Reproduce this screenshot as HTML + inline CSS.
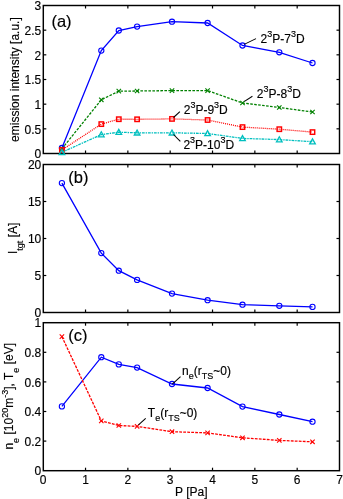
<!DOCTYPE html><html><head><meta charset="utf-8"><style>html,body{margin:0;padding:0;background:#fff;}svg{display:block;will-change:transform;}text{font-family:"Liberation Sans",sans-serif;font-size:12px;fill:#000;stroke:#000;stroke-width:0.15px;}</style></head><body>
<svg width="343" height="499" viewBox="0 0 343 499">
<rect width="343" height="499" fill="#fff"/>
<rect x="43.3" y="5.5" width="296.20" height="148.00" fill="none" stroke="#000" stroke-width="1.45"/>
<line x1="85.53" y1="153.5" x2="85.53" y2="150.5" stroke="#000" stroke-width="1.2"/>
<line x1="85.53" y1="5.5" x2="85.53" y2="8.5" stroke="#000" stroke-width="1.2"/>
<line x1="127.86" y1="153.5" x2="127.86" y2="150.5" stroke="#000" stroke-width="1.2"/>
<line x1="127.86" y1="5.5" x2="127.86" y2="8.5" stroke="#000" stroke-width="1.2"/>
<line x1="170.19" y1="153.5" x2="170.19" y2="150.5" stroke="#000" stroke-width="1.2"/>
<line x1="170.19" y1="5.5" x2="170.19" y2="8.5" stroke="#000" stroke-width="1.2"/>
<line x1="212.52" y1="153.5" x2="212.52" y2="150.5" stroke="#000" stroke-width="1.2"/>
<line x1="212.52" y1="5.5" x2="212.52" y2="8.5" stroke="#000" stroke-width="1.2"/>
<line x1="254.85" y1="153.5" x2="254.85" y2="150.5" stroke="#000" stroke-width="1.2"/>
<line x1="254.85" y1="5.5" x2="254.85" y2="8.5" stroke="#000" stroke-width="1.2"/>
<line x1="297.18" y1="153.5" x2="297.18" y2="150.5" stroke="#000" stroke-width="1.2"/>
<line x1="297.18" y1="5.5" x2="297.18" y2="8.5" stroke="#000" stroke-width="1.2"/>
<text x="41.30" y="158.20" text-anchor="end">0</text>
<line x1="43.3" y1="128.83" x2="46.3" y2="128.83" stroke="#000" stroke-width="1.2"/>
<line x1="339.5" y1="128.83" x2="336.5" y2="128.83" stroke="#000" stroke-width="1.2"/>
<text x="41.30" y="133.53" text-anchor="end">0.5</text>
<line x1="43.3" y1="104.17" x2="46.3" y2="104.17" stroke="#000" stroke-width="1.2"/>
<line x1="339.5" y1="104.17" x2="336.5" y2="104.17" stroke="#000" stroke-width="1.2"/>
<text x="41.30" y="108.87" text-anchor="end">1</text>
<line x1="43.3" y1="79.50" x2="46.3" y2="79.50" stroke="#000" stroke-width="1.2"/>
<line x1="339.5" y1="79.50" x2="336.5" y2="79.50" stroke="#000" stroke-width="1.2"/>
<text x="41.30" y="84.20" text-anchor="end">1.5</text>
<line x1="43.3" y1="54.83" x2="46.3" y2="54.83" stroke="#000" stroke-width="1.2"/>
<line x1="339.5" y1="54.83" x2="336.5" y2="54.83" stroke="#000" stroke-width="1.2"/>
<text x="41.30" y="59.53" text-anchor="end">2</text>
<line x1="43.3" y1="30.17" x2="46.3" y2="30.17" stroke="#000" stroke-width="1.2"/>
<line x1="339.5" y1="30.17" x2="336.5" y2="30.17" stroke="#000" stroke-width="1.2"/>
<text x="41.30" y="34.87" text-anchor="end">2.5</text>
<text x="41.30" y="10.20" text-anchor="end">3</text>
<polyline points="61.9,148.0 101.3,50.6 118.8,30.5 137.1,26.6 172.0,21.7 207.6,23.0 242.5,45.5 279.3,52.3 312.5,63.0" fill="none" stroke="#0000ff" stroke-width="1.3"/>
<circle cx="61.9" cy="148.0" r="2.6" fill="none" stroke="#0000ff" stroke-width="1.1"/>
<circle cx="101.3" cy="50.6" r="2.6" fill="none" stroke="#0000ff" stroke-width="1.1"/>
<circle cx="118.8" cy="30.5" r="2.6" fill="none" stroke="#0000ff" stroke-width="1.1"/>
<circle cx="137.1" cy="26.6" r="2.6" fill="none" stroke="#0000ff" stroke-width="1.1"/>
<circle cx="172.0" cy="21.7" r="2.6" fill="none" stroke="#0000ff" stroke-width="1.1"/>
<circle cx="207.6" cy="23.0" r="2.6" fill="none" stroke="#0000ff" stroke-width="1.1"/>
<circle cx="242.5" cy="45.5" r="2.6" fill="none" stroke="#0000ff" stroke-width="1.1"/>
<circle cx="279.3" cy="52.3" r="2.6" fill="none" stroke="#0000ff" stroke-width="1.1"/>
<circle cx="312.5" cy="63.0" r="2.6" fill="none" stroke="#0000ff" stroke-width="1.1"/>
<polyline points="61.9,148.8 101.3,99.8 118.8,91.1 137.1,91.0 172.0,90.6 207.6,90.6 242.5,103.0 279.3,107.5 312.5,112.0" fill="none" stroke="#008000" stroke-width="1.3" stroke-dasharray="2.6,1.4"/>
<path d="M59.7,146.6L64.1,151.0M59.7,151.0L64.1,146.6" stroke="#008000" stroke-width="1.1" fill="none"/>
<path d="M99.1,97.6L103.5,102.0M99.1,102.0L103.5,97.6" stroke="#008000" stroke-width="1.1" fill="none"/>
<path d="M116.6,88.9L121.0,93.3M116.6,93.3L121.0,88.9" stroke="#008000" stroke-width="1.1" fill="none"/>
<path d="M134.9,88.8L139.3,93.2M134.9,93.2L139.3,88.8" stroke="#008000" stroke-width="1.1" fill="none"/>
<path d="M169.8,88.4L174.2,92.8M169.8,92.8L174.2,88.4" stroke="#008000" stroke-width="1.1" fill="none"/>
<path d="M205.4,88.4L209.8,92.8M205.4,92.8L209.8,88.4" stroke="#008000" stroke-width="1.1" fill="none"/>
<path d="M240.3,100.8L244.7,105.2M240.3,105.2L244.7,100.8" stroke="#008000" stroke-width="1.1" fill="none"/>
<path d="M277.1,105.3L281.5,109.7M277.1,109.7L281.5,105.3" stroke="#008000" stroke-width="1.1" fill="none"/>
<path d="M310.3,109.8L314.7,114.2M310.3,114.2L314.7,109.8" stroke="#008000" stroke-width="1.1" fill="none"/>
<polyline points="61.9,150.0 101.3,124.1 118.8,119.2 137.1,119.3 172.0,118.9 207.6,120.0 242.5,127.1 279.3,129.2 312.5,132.1" fill="none" stroke="#ff0000" stroke-width="1.3" stroke-dasharray="1,1"/>
<rect x="59.7" y="147.8" width="4.4" height="4.4" fill="none" stroke="#ff0000" stroke-width="1.45"/>
<rect x="99.1" y="121.9" width="4.4" height="4.4" fill="none" stroke="#ff0000" stroke-width="1.45"/>
<rect x="116.6" y="117.0" width="4.4" height="4.4" fill="none" stroke="#ff0000" stroke-width="1.45"/>
<rect x="134.9" y="117.1" width="4.4" height="4.4" fill="none" stroke="#ff0000" stroke-width="1.45"/>
<rect x="169.8" y="116.7" width="4.4" height="4.4" fill="none" stroke="#ff0000" stroke-width="1.45"/>
<rect x="205.4" y="117.8" width="4.4" height="4.4" fill="none" stroke="#ff0000" stroke-width="1.45"/>
<rect x="240.3" y="124.9" width="4.4" height="4.4" fill="none" stroke="#ff0000" stroke-width="1.45"/>
<rect x="277.1" y="127.0" width="4.4" height="4.4" fill="none" stroke="#ff0000" stroke-width="1.45"/>
<rect x="310.3" y="129.9" width="4.4" height="4.4" fill="none" stroke="#ff0000" stroke-width="1.45"/>
<polyline points="61.9,152.3 101.3,134.6 118.8,132.2 137.1,132.8 172.0,132.8 207.6,133.5 242.5,138.4 279.3,139.6 312.5,141.7" fill="none" stroke="#00bfbf" stroke-width="1.3" stroke-dasharray="2.8,0.9,1.4,0.9"/>
<path d="M61.9,149.5L64.7,154.5L59.1,154.5Z" stroke="#00bfbf" stroke-width="1.3" fill="none"/>
<path d="M101.3,131.8L104.1,136.8L98.5,136.8Z" stroke="#00bfbf" stroke-width="1.3" fill="none"/>
<path d="M118.8,129.4L121.6,134.4L116.0,134.4Z" stroke="#00bfbf" stroke-width="1.3" fill="none"/>
<path d="M137.1,130.0L139.9,135.0L134.3,135.0Z" stroke="#00bfbf" stroke-width="1.3" fill="none"/>
<path d="M172.0,130.0L174.8,135.0L169.2,135.0Z" stroke="#00bfbf" stroke-width="1.3" fill="none"/>
<path d="M207.6,130.7L210.4,135.7L204.8,135.7Z" stroke="#00bfbf" stroke-width="1.3" fill="none"/>
<path d="M242.5,135.6L245.3,140.6L239.7,140.6Z" stroke="#00bfbf" stroke-width="1.3" fill="none"/>
<path d="M279.3,136.8L282.1,141.8L276.5,141.8Z" stroke="#00bfbf" stroke-width="1.3" fill="none"/>
<path d="M312.5,138.9L315.3,143.9L309.7,143.9Z" stroke="#00bfbf" stroke-width="1.3" fill="none"/>
<rect x="43.3" y="164.5" width="296.20" height="148.00" fill="none" stroke="#000" stroke-width="1.45"/>
<line x1="85.53" y1="312.5" x2="85.53" y2="309.5" stroke="#000" stroke-width="1.2"/>
<line x1="85.53" y1="164.5" x2="85.53" y2="167.5" stroke="#000" stroke-width="1.2"/>
<line x1="127.86" y1="312.5" x2="127.86" y2="309.5" stroke="#000" stroke-width="1.2"/>
<line x1="127.86" y1="164.5" x2="127.86" y2="167.5" stroke="#000" stroke-width="1.2"/>
<line x1="170.19" y1="312.5" x2="170.19" y2="309.5" stroke="#000" stroke-width="1.2"/>
<line x1="170.19" y1="164.5" x2="170.19" y2="167.5" stroke="#000" stroke-width="1.2"/>
<line x1="212.52" y1="312.5" x2="212.52" y2="309.5" stroke="#000" stroke-width="1.2"/>
<line x1="212.52" y1="164.5" x2="212.52" y2="167.5" stroke="#000" stroke-width="1.2"/>
<line x1="254.85" y1="312.5" x2="254.85" y2="309.5" stroke="#000" stroke-width="1.2"/>
<line x1="254.85" y1="164.5" x2="254.85" y2="167.5" stroke="#000" stroke-width="1.2"/>
<line x1="297.18" y1="312.5" x2="297.18" y2="309.5" stroke="#000" stroke-width="1.2"/>
<line x1="297.18" y1="164.5" x2="297.18" y2="167.5" stroke="#000" stroke-width="1.2"/>
<text x="41.30" y="317.20" text-anchor="end">0</text>
<line x1="43.3" y1="275.50" x2="46.3" y2="275.50" stroke="#000" stroke-width="1.2"/>
<line x1="339.5" y1="275.50" x2="336.5" y2="275.50" stroke="#000" stroke-width="1.2"/>
<text x="41.30" y="280.20" text-anchor="end">5</text>
<line x1="43.3" y1="238.50" x2="46.3" y2="238.50" stroke="#000" stroke-width="1.2"/>
<line x1="339.5" y1="238.50" x2="336.5" y2="238.50" stroke="#000" stroke-width="1.2"/>
<text x="41.30" y="243.20" text-anchor="end">10</text>
<line x1="43.3" y1="201.50" x2="46.3" y2="201.50" stroke="#000" stroke-width="1.2"/>
<line x1="339.5" y1="201.50" x2="336.5" y2="201.50" stroke="#000" stroke-width="1.2"/>
<text x="41.30" y="206.20" text-anchor="end">15</text>
<text x="41.30" y="169.20" text-anchor="end">20</text>
<polyline points="61.9,183.1 101.3,253.1 118.8,270.7 137.1,279.9 172.0,293.6 207.6,300.2 242.5,304.7 279.3,305.8 312.5,306.9" fill="none" stroke="#0000ff" stroke-width="1.3"/>
<circle cx="61.9" cy="183.1" r="2.6" fill="none" stroke="#0000ff" stroke-width="1.1"/>
<circle cx="101.3" cy="253.1" r="2.6" fill="none" stroke="#0000ff" stroke-width="1.1"/>
<circle cx="118.8" cy="270.7" r="2.6" fill="none" stroke="#0000ff" stroke-width="1.1"/>
<circle cx="137.1" cy="279.9" r="2.6" fill="none" stroke="#0000ff" stroke-width="1.1"/>
<circle cx="172.0" cy="293.6" r="2.6" fill="none" stroke="#0000ff" stroke-width="1.1"/>
<circle cx="207.6" cy="300.2" r="2.6" fill="none" stroke="#0000ff" stroke-width="1.1"/>
<circle cx="242.5" cy="304.7" r="2.6" fill="none" stroke="#0000ff" stroke-width="1.1"/>
<circle cx="279.3" cy="305.8" r="2.6" fill="none" stroke="#0000ff" stroke-width="1.1"/>
<circle cx="312.5" cy="306.9" r="2.6" fill="none" stroke="#0000ff" stroke-width="1.1"/>
<rect x="43.3" y="322.7" width="296.20" height="148.00" fill="none" stroke="#000" stroke-width="1.45"/>
<line x1="85.53" y1="470.7" x2="85.53" y2="467.7" stroke="#000" stroke-width="1.2"/>
<line x1="85.53" y1="322.7" x2="85.53" y2="325.7" stroke="#000" stroke-width="1.2"/>
<line x1="127.86" y1="470.7" x2="127.86" y2="467.7" stroke="#000" stroke-width="1.2"/>
<line x1="127.86" y1="322.7" x2="127.86" y2="325.7" stroke="#000" stroke-width="1.2"/>
<line x1="170.19" y1="470.7" x2="170.19" y2="467.7" stroke="#000" stroke-width="1.2"/>
<line x1="170.19" y1="322.7" x2="170.19" y2="325.7" stroke="#000" stroke-width="1.2"/>
<line x1="212.52" y1="470.7" x2="212.52" y2="467.7" stroke="#000" stroke-width="1.2"/>
<line x1="212.52" y1="322.7" x2="212.52" y2="325.7" stroke="#000" stroke-width="1.2"/>
<line x1="254.85" y1="470.7" x2="254.85" y2="467.7" stroke="#000" stroke-width="1.2"/>
<line x1="254.85" y1="322.7" x2="254.85" y2="325.7" stroke="#000" stroke-width="1.2"/>
<line x1="297.18" y1="470.7" x2="297.18" y2="467.7" stroke="#000" stroke-width="1.2"/>
<line x1="297.18" y1="322.7" x2="297.18" y2="325.7" stroke="#000" stroke-width="1.2"/>
<text x="41.30" y="475.40" text-anchor="end">0</text>
<line x1="43.3" y1="441.10" x2="46.3" y2="441.10" stroke="#000" stroke-width="1.2"/>
<line x1="339.5" y1="441.10" x2="336.5" y2="441.10" stroke="#000" stroke-width="1.2"/>
<text x="41.30" y="445.80" text-anchor="end">0.2</text>
<line x1="43.3" y1="411.50" x2="46.3" y2="411.50" stroke="#000" stroke-width="1.2"/>
<line x1="339.5" y1="411.50" x2="336.5" y2="411.50" stroke="#000" stroke-width="1.2"/>
<text x="41.30" y="416.20" text-anchor="end">0.4</text>
<line x1="43.3" y1="381.90" x2="46.3" y2="381.90" stroke="#000" stroke-width="1.2"/>
<line x1="339.5" y1="381.90" x2="336.5" y2="381.90" stroke="#000" stroke-width="1.2"/>
<text x="41.30" y="386.60" text-anchor="end">0.6</text>
<line x1="43.3" y1="352.30" x2="46.3" y2="352.30" stroke="#000" stroke-width="1.2"/>
<line x1="339.5" y1="352.30" x2="336.5" y2="352.30" stroke="#000" stroke-width="1.2"/>
<text x="41.30" y="357.00" text-anchor="end">0.8</text>
<text x="41.30" y="327.40" text-anchor="end">1</text>
<text x="43.20" y="484.20" text-anchor="middle">0</text>
<text x="85.53" y="484.20" text-anchor="middle">1</text>
<text x="127.86" y="484.20" text-anchor="middle">2</text>
<text x="170.19" y="484.20" text-anchor="middle">3</text>
<text x="212.52" y="484.20" text-anchor="middle">4</text>
<text x="254.85" y="484.20" text-anchor="middle">5</text>
<text x="297.18" y="484.20" text-anchor="middle">6</text>
<text x="339.51" y="484.20" text-anchor="middle">7</text>
<polyline points="61.9,406.4 101.3,357.2 118.8,364.4 137.1,367.6 172.0,384.0 207.6,388.0 242.5,406.6 279.3,414.5 312.5,421.7" fill="none" stroke="#0000ff" stroke-width="1.3"/>
<circle cx="61.9" cy="406.4" r="2.6" fill="none" stroke="#0000ff" stroke-width="1.1"/>
<circle cx="101.3" cy="357.2" r="2.6" fill="none" stroke="#0000ff" stroke-width="1.1"/>
<circle cx="118.8" cy="364.4" r="2.6" fill="none" stroke="#0000ff" stroke-width="1.1"/>
<circle cx="137.1" cy="367.6" r="2.6" fill="none" stroke="#0000ff" stroke-width="1.1"/>
<circle cx="172.0" cy="384.0" r="2.6" fill="none" stroke="#0000ff" stroke-width="1.1"/>
<circle cx="207.6" cy="388.0" r="2.6" fill="none" stroke="#0000ff" stroke-width="1.1"/>
<circle cx="242.5" cy="406.6" r="2.6" fill="none" stroke="#0000ff" stroke-width="1.1"/>
<circle cx="279.3" cy="414.5" r="2.6" fill="none" stroke="#0000ff" stroke-width="1.1"/>
<circle cx="312.5" cy="421.7" r="2.6" fill="none" stroke="#0000ff" stroke-width="1.1"/>
<polyline points="61.9,336.6 101.3,420.9 118.8,425.5 137.1,426.4 172.0,431.7 207.6,432.9 242.5,437.8 279.3,440.4 312.5,441.8" fill="none" stroke="#ff0000" stroke-width="1.3" stroke-dasharray="2.8,1.2"/>
<path d="M59.7,334.4L64.1,338.8M59.7,338.8L64.1,334.4" stroke="#ff0000" stroke-width="1.1" fill="none"/>
<path d="M99.1,418.7L103.5,423.1M99.1,423.1L103.5,418.7" stroke="#ff0000" stroke-width="1.1" fill="none"/>
<path d="M116.6,423.3L121.0,427.7M116.6,427.7L121.0,423.3" stroke="#ff0000" stroke-width="1.1" fill="none"/>
<path d="M134.9,424.2L139.3,428.6M134.9,428.6L139.3,424.2" stroke="#ff0000" stroke-width="1.1" fill="none"/>
<path d="M169.8,429.5L174.2,433.9M169.8,433.9L174.2,429.5" stroke="#ff0000" stroke-width="1.1" fill="none"/>
<path d="M205.4,430.7L209.8,435.1M205.4,435.1L209.8,430.7" stroke="#ff0000" stroke-width="1.1" fill="none"/>
<path d="M240.3,435.6L244.7,440.0M240.3,440.0L244.7,435.6" stroke="#ff0000" stroke-width="1.1" fill="none"/>
<path d="M277.1,438.2L281.5,442.6M277.1,442.6L281.5,438.2" stroke="#ff0000" stroke-width="1.1" fill="none"/>
<path d="M310.3,439.6L314.7,444.0M310.3,444.0L314.7,439.6" stroke="#ff0000" stroke-width="1.1" fill="none"/>
<text x="51.4" y="27.2" style="font-size:16.5px">(a)</text>
<text x="68.3" y="182.8" style="font-size:16.5px">(b)</text>
<text x="68.3" y="341" style="font-size:16.5px">(c)</text>
<text x="260.6" y="42.5">2<tspan dy="-6.0" style="font-size:9px">3</tspan><tspan dy="6.0">P-7</tspan><tspan dy="-6.0" style="font-size:9px">3</tspan><tspan dy="6.0">D</tspan></text>
<line x1="244.2" y1="44.4" x2="256.0" y2="38.6" stroke="#000" stroke-width="1.05"/>
<text x="256.8" y="97.5">2<tspan dy="-6.0" style="font-size:9px">3</tspan><tspan dy="6.0">P-8</tspan><tspan dy="-6.0" style="font-size:9px">3</tspan><tspan dy="6.0">D</tspan></text>
<line x1="244.5" y1="101.4" x2="252.4" y2="96.2" stroke="#000" stroke-width="1.05"/>
<text x="183.7" y="113.6">2<tspan dy="-6.0" style="font-size:9px">3</tspan><tspan dy="6.0">P-9</tspan><tspan dy="-6.0" style="font-size:9px">3</tspan><tspan dy="6.0">D</tspan></text>
<line x1="173.5" y1="117.5" x2="179.9" y2="111.7" stroke="#000" stroke-width="1.05"/>
<text x="183.4" y="149.2">2<tspan dy="-6.0" style="font-size:9px">3</tspan><tspan dy="6.0">P-10</tspan><tspan dy="-6.0" style="font-size:9px">3</tspan><tspan dy="6.0">D</tspan></text>
<line x1="173.5" y1="134.5" x2="180.3" y2="141.3" stroke="#000" stroke-width="1.05"/>
<text x="182.1" y="375.0">n<tspan dy="3.5" style="font-size:9px">e</tspan><tspan dy="-3.5">(r</tspan><tspan dy="3.5" style="font-size:9px">TS</tspan><tspan dy="-3.5">~0)</tspan></text>
<line x1="172.3" y1="384.1" x2="180.5" y2="376.7" stroke="#000" stroke-width="1.05"/>
<text x="147.8" y="417.0">T<tspan dy="3.5" style="font-size:9px">e</tspan><tspan dy="-3.5">(r</tspan><tspan dy="3.5" style="font-size:9px">TS</tspan><tspan dy="-3.5">~0)</tspan></text>
<line x1="138.5" y1="424.8" x2="145.7" y2="418.4" stroke="#000" stroke-width="1.05"/>
<text transform="translate(19.2,79.6) rotate(-90)" text-anchor="middle">emission intensity [a.u.]</text>
<text transform="translate(17,238.3) rotate(-90)" text-anchor="middle">I<tspan dy="5.5" style="font-size:9px">tgt</tspan><tspan dy="-5.5"> [A]</tspan></text>
<text transform="translate(13.4,396.3) rotate(-90)" text-anchor="middle">n<tspan dy="6" style="font-size:9px">e</tspan><tspan dy="-6"> [10</tspan><tspan dy="-5.7" style="font-size:9px">20</tspan><tspan dy="5.7">m</tspan><tspan dy="-5.7" style="font-size:9px">-3</tspan><tspan dy="5.7">], T</tspan><tspan dy="6" style="font-size:9px">e</tspan><tspan dy="-6"> [eV]</tspan></text>
<text x="191.3" y="496" text-anchor="middle">P [Pa]</text>
</svg></body></html>
